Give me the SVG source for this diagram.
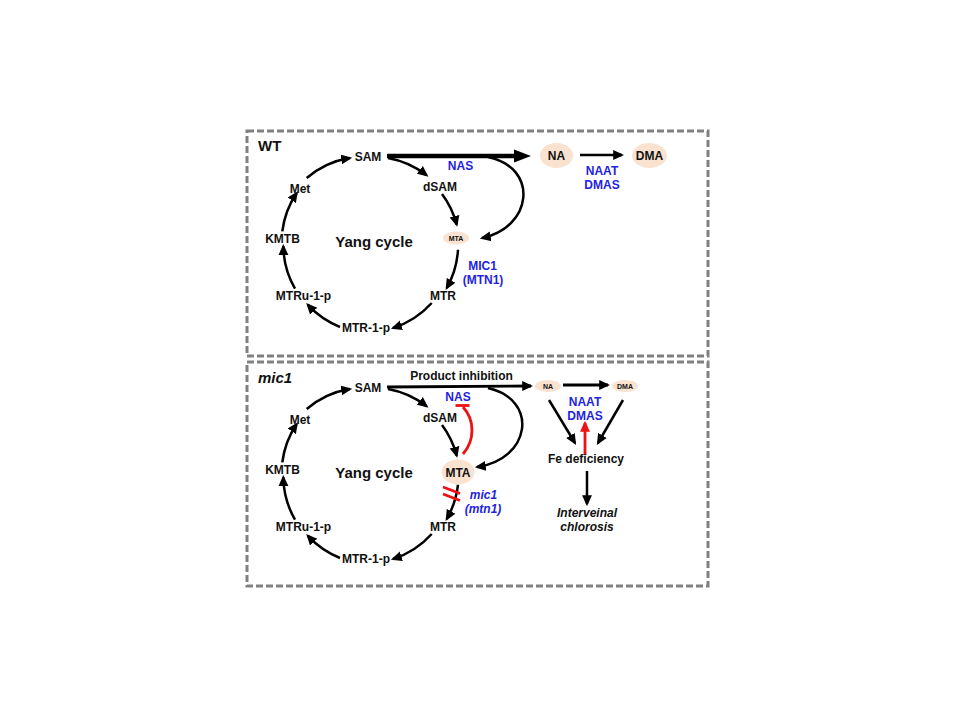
<svg xmlns="http://www.w3.org/2000/svg" width="960" height="720" viewBox="0 0 960 720">
<style>
.box{fill:none;stroke:#808080;stroke-width:3;stroke-dasharray:7 3}
.t{font-family:"Liberation Sans",Arial,sans-serif;font-weight:bold;font-size:12px;fill:#111;text-anchor:middle}
.b{fill:#2323e0}
.i{font-style:italic}
.sm{font-size:7px}
.ln{fill:none;stroke:#000;stroke-width:2.5}
.ar{marker-end:url(#ah)}
.red{fill:none;stroke:#ee1111;stroke-width:2.8}
.el{fill:#f9e2cf}
</style>
<defs>
<marker id="ah" markerUnits="userSpaceOnUse" viewBox="0 0 10 10" markerWidth="11" markerHeight="11" refX="8" refY="5" orient="auto"><path d="M0,0.5 L10,5 L0,9.5 z" fill="#000"/></marker>
<marker id="ahr" markerUnits="userSpaceOnUse" viewBox="0 0 10 10" markerWidth="11" markerHeight="11" refX="8" refY="5" orient="auto"><path d="M0,0.5 L10,5 L0,9.5 z" fill="#ee1111"/></marker>
</defs>
<rect width="960" height="720" fill="#fff"/>

<g id="panel-wt">
<rect class="box" x="247" y="131" width="461" height="225"/>
<text class="t" x="258" y="151" style="font-size:15px;text-anchor:start">WT</text>
</g>
<g id="panel-mic1">
<rect class="box" x="247" y="362" width="461" height="224"/>
<text class="t i" x="258" y="383" style="font-size:15px;text-anchor:start">mic1</text>
</g>

<g id="connectors-wt">
<path class="ln ar" d="M306.7,178 A88,88 0 0 1 350,158"/>
<path class="ln ar" d="M388,158 A88,88 0 0 1 426.7,175.3"/>
<path class="ln ar" d="M442,194 A88,88 0 0 1 456.7,224.7"/>
<path class="ln ar" d="M458,249.7 A88,88 0 0 1 446.7,288"/>
<path class="ln ar" d="M431.7,303 A88,88 0 0 1 393,328"/>
<path class="ln ar" d="M340,327 A88,88 0 0 1 307.7,304.7"/>
<path class="ln ar" d="M295,288.7 A88,88 0 0 1 283.3,246.3"/>
<path class="ln ar" d="M282.3,231.3 A88,88 0 0 1 296.7,193"/>
<path d="M387,156 L516,156" stroke="#000" stroke-width="4.5" fill="none"/>
<polygon points="514,149.5 531,156 514,162.5" fill="#000"/>
<path class="ln ar" d="M488,157 C540,168 532,228 482,238"/>
<path class="ln ar" d="M580,155 L622,155"/>
</g>

<g id="connectors-mic1">
<path class="ln ar" d="M306.7,409 A88,88 0 0 1 350,389"/>
<path class="ln ar" d="M388,389 A88,88 0 0 1 426.7,406.3"/>
<path class="ln ar" d="M442,425 A88,88 0 0 1 456.7,455.7"/>
<path class="ln ar" d="M458,484.7 A88,88 0 0 1 446.7,519"/>
<path class="ln ar" d="M431.7,534 A88,88 0 0 1 393,559"/>
<path class="ln ar" d="M340,558 A88,88 0 0 1 307.7,535.7"/>
<path class="ln ar" d="M295,519.7 A88,88 0 0 1 283.3,477.3"/>
<path class="ln ar" d="M282.3,462.3 A88,88 0 0 1 296.7,424"/>
<path class="ln ar" d="M387,387 L531,386" style="stroke-width:2.8"/>
<path class="ln ar" d="M488,388 C540,400 530,460 477,467"/>
<path class="ln ar" d="M563,385 L608,385" style="stroke-width:3"/>
<path class="ln ar" d="M549,400 L575,443"/>
<path class="ln ar" d="M623,400 L598,443"/>
<path class="ln ar" d="M587,471 L587,504"/>
<path d="M585,455 L585,423" class="red" style="marker-end:url(#ahr)"/>
<path class="red" d="M463,454 C475,440 475,420 463,407"/>
<path class="red" d="M455.5,405.5 L469.5,405.5"/>
<path class="red" d="M443,487 L460,493.5"/>
<path class="red" d="M443,494 L460,500.5"/>
</g>

<g id="wt-sam"><text class="t" x="368" y="161">SAM</text></g>
<g id="wt-dsam"><text class="t" x="440" y="190.5">dSAM</text></g>
<g id="wt-met"><text class="t" x="300" y="193">Met</text></g>
<g id="wt-kmtb"><text class="t" x="282.5" y="243">KMTB</text></g>
<g id="wt-yang"><text class="t" x="374" y="247" style="font-size:15px">Yang cycle</text></g>
<g id="wt-mta"><ellipse class="el" cx="456" cy="238" rx="13" ry="6.5"/><text class="t sm" x="456" y="240.5">MTA</text></g>
<g id="wt-mtr"><text class="t" x="443" y="300">MTR</text></g>
<g id="wt-mtru1p"><text class="t" x="303.5" y="300">MTRu-1-p</text></g>
<g id="wt-mtr1p"><text class="t" x="366" y="332">MTR-1-p</text></g>
<g id="wt-nas"><text class="t b" x="460.5" y="170">NAS</text></g>
<g id="wt-na"><ellipse class="el" cx="556.5" cy="155.5" rx="16.5" ry="12.5"/><text class="t" x="556.5" y="160">NA</text></g>
<g id="wt-dma"><ellipse class="el" cx="649.5" cy="155.5" rx="17.5" ry="12.5"/><text class="t" x="649.5" y="160">DMA</text></g>
<g id="wt-naat"><text class="t b" x="602" y="175">NAAT</text><text class="t b" x="602" y="188.5">DMAS</text></g>
<g id="wt-mic1"><text class="t b" x="482.5" y="270">MIC1</text><text class="t b" x="483" y="283.5">(MTN1)</text></g>

<g id="m-sam"><text class="t" x="368" y="392">SAM</text></g>
<g id="m-dsam"><text class="t" x="440" y="421.5">dSAM</text></g>
<g id="m-met"><text class="t" x="300" y="424">Met</text></g>
<g id="m-kmtb"><text class="t" x="282.5" y="474">KMTB</text></g>
<g id="m-yang"><text class="t" x="374" y="478" style="font-size:15px">Yang cycle</text></g>
<g id="m-mta"><ellipse class="el" cx="458" cy="472" rx="16.5" ry="12.5"/><text class="t" x="458" y="476.5">MTA</text></g>
<g id="m-mtr"><text class="t" x="443" y="531">MTR</text></g>
<g id="m-mtru1p"><text class="t" x="303.5" y="531">MTRu-1-p</text></g>
<g id="m-mtr1p"><text class="t" x="366" y="563">MTR-1-p</text></g>
<g id="m-pi"><text class="t" x="461.5" y="380">Product inhibition</text></g>
<g id="m-nas"><text class="t b" x="458" y="401">NAS</text></g>
<g id="m-na"><ellipse class="el" cx="548" cy="386" rx="13" ry="6"/><text class="t sm" x="548" y="388.5">NA</text></g>
<g id="m-dma"><ellipse class="el" cx="625" cy="386" rx="13" ry="6"/><text class="t sm" x="625" y="388.5">DMA</text></g>
<g id="m-naat"><text class="t b" x="585" y="406">NAAT</text><text class="t b" x="585" y="420">DMAS</text></g>
<g id="m-fe"><text class="t" x="586" y="462.5">Fe deficiency</text></g>
<g id="m-chl"><text class="t i" x="587" y="517">Interveinal</text><text class="t i" x="587" y="531">chlorosis</text></g>
<g id="m-mic1"><text class="t b i" x="483.5" y="498.5">mic1</text><text class="t b i" x="483" y="513">(mtn1)</text></g>
</svg>
